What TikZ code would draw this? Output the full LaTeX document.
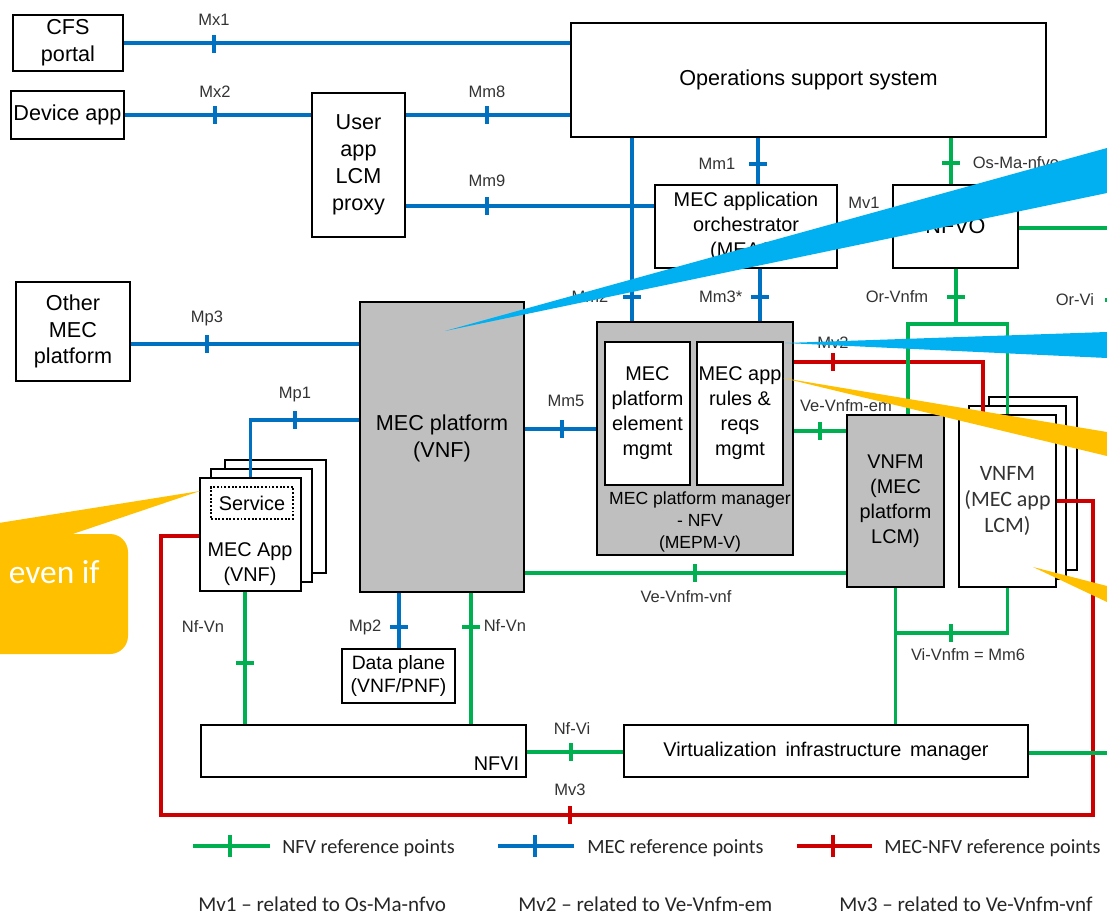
\documentclass[tikz,border=0pt]{standalone}
\usepackage{fontspec}
\setmainfont{Liberation Sans}
\newfontfamily\calibri{Carlito}
\usepackage{tikz}

\definecolor{mecblue}{RGB}{0,112,192}
\definecolor{nfvgreen}{RGB}{0,176,80}
\definecolor{mvred}{RGB}{204,0,0}
\definecolor{boxgray}{RGB}{191,191,191}
\definecolor{callblue}{RGB}{0,176,240}
\definecolor{callyellow}{RGB}{255,192,0}

\begin{document}
\begin{tikzpicture}[
            x = 0.02cm, % one unit = one pixel of the slide
            y = -0.02cm, % y grows downwards
            line join = miter
        ]

        \tikzstyle{box}=[
            draw = black,
            line width = 1.1pt,
            fill = white,
            inner sep = 0pt,
            align = center,
            font = \fontsize{12.3}{15.3}\selectfont
        ]
        \tikzstyle{sbox}=[box, font = \fontsize{11.3}{14.2}\selectfont]
        \tikzstyle{mec}=[mecblue, line width = 2pt]
        \tikzstyle{nfv}=[nfvgreen, line width = 2pt]
        \tikzstyle{mv}=[mvred, line width = 2pt]
        \tikzstyle{tv}=[fill, inner sep = 0pt, minimum width = 2pt, minimum height = 10.2pt]
        \tikzstyle{th}=[fill, inner sep = 0pt, minimum width = 10.2pt, minimum height = 2pt]
        \tikzstyle{lbl}=[text = black!80, inner sep = 0pt, font = \fontsize{9.4}{11}\selectfont]
        \tikzstyle{leg}=[text = black!85, inner sep = 0pt, anchor = base west, font = \calibri\fontsize{11.5}{13}\selectfont]

        \useasboundingbox (0,0) rectangle (1107,916);
        \clip (0,0) rectangle (1107,916);
        \fill[white] (0,0) rectangle (1107,916);

        % boxes
        \node[box, minimum width = 2.2cm, minimum height = 1.12cm] (cfs) at (68,43) {CFS\\portal};
        \node[box, minimum width = 2.26cm, minimum height = 0.96cm] (dev) at (67.5,115) {Device app};
        \node[box, minimum width = 1.86cm, minimum height = 2.88cm] (ualcm) at (358.5,165) {User\\app\\LCM\\proxy};
        \node[box, minimum width = 9.5cm, minimum height = 2.28cm] (oss) at (808.5,80) {Operations support system};
        \node[sbox, minimum width = 3.64cm, minimum height = 1.66cm] (meao) at (746,226.5) {MEC application\\orchestrator\\(MEAO)};
        \node[box, minimum width = 2.5cm, minimum height = 1.66cm] (nfvo) at (955.5,226.5) {NFVO};
        \node[box, minimum width = 2.28cm, minimum height = 1.98cm] (omp) at (73,331.5) {Other\\MEC\\platform};

        \node[box, fill = boxgray, minimum width = 3.28cm, minimum height = 5.8cm] (mep) at (442,447) {};
        \node[box, draw = none, fill = none] (mept) at (442,438) {MEC platform\\(VNF)};

        \node[sbox, minimum width = 2.02cm, minimum height = 2.26cm] (mapp3) at (275.5,516.5) {};
        \node[sbox, minimum width = 2.02cm, minimum height = 2.26cm] (mapp2) at (261.5,525.5) {};
        \node[sbox, minimum width = 2.02cm, minimum height = 2.26cm] (mapp) at (250.5,534.5) {};
        \node[sbox, densely dotted, line width = 1pt, minimum width = 1.64cm, minimum height = 0.64cm] (svc) at (252,503) {Service};
        \node[sbox, draw = none, fill = none] (mappt) at (250,564) {MEC App\\(VNF)};

        \node[sbox, font = \fontsize{11}{13.2}\selectfont, minimum width = 2.26cm, minimum height = 1.08cm] (dp) at (398.5,676) {Data plane\\(VNF/PNF)};
        \node[box, minimum width = 6.5cm, minimum height = 1.04cm] (nfvi) at (363.5,751) {};
        \node[sbox, draw = none, fill = none, anchor = base east] (nfvit) at (520,770) {NFVI};
        \node[sbox, minimum width = 8.08cm, minimum height = 1.04cm] (vim) at (826,751) {Virtualization\ \,infrastructure\ \,manager};

        \node[box, fill = boxgray, minimum width = 3.92cm, minimum height = 4.66cm] (mepm) at (695,438.5) {};
        \node[sbox, minimum width = 1.7cm, minimum height = 2.86cm] (peem) at (647.5,413.5) {MEC\\platform\\element\\mgmt};
        \node[sbox, minimum width = 1.72cm, minimum height = 2.86cm] (arm) at (740,413.5) {MEC app\\rules \&\\reqs\\mgmt};
        \node[box, draw = none, fill = none, font = \fontsize{10}{12.3}\selectfont] (mepmt) at (700,522) {MEC platform manager\\- NFV\\(MEPM-V)};

        \node[sbox, fill = boxgray, minimum width = 1.94cm, minimum height = 3.44cm] (vnfmp) at (895.5,501) {VNFM\\(MEC\\platform\\LCM)};
        \node[box, minimum width = 1.76cm, minimum height = 3.46cm] (vnfma3) at (1033,483.5) {};
        \node[box, minimum width = 1.94cm, minimum height = 3.46cm] (vnfma2) at (1017.5,492.5) {};
        \node[box, text = black!80, font = \calibri\fontsize{12.5}{15}\selectfont, minimum width = 1.94cm, minimum height = 3.44cm] (vnfma) at (1007.5,501) {VNFM\\(MEC app\\LCM)};

        % free ends
        \coordinate (nfvoout) at (1107,228);
        \coordinate (vimout) at (1107,753);
        \coordinate (orvnfm) at (956,324);
        \coordinate (mv3a) at (161,815);
        \coordinate (mv3b) at (1093,815);

        % MEC reference points
        \draw[mec] (cfs.east) -- (cfs.east -| oss.west)
            node[tv] at (214,44) {} node[lbl] at (214,20) {Mx1};
        \draw[mec] (dev.east) -- (dev.east -| ualcm.west)
            node[tv] at (215,115) {} node[lbl] at (215,92) {Mx2};
        \draw[mec] (dev.east -| ualcm.east) -- (dev.east -| oss.west)
            node[tv] at (487,115) {} node[lbl] at (487,92) {Mm8};
        \draw[mec] (ualcm.east |- 0,206) -- (meao.west |- 0,206)
            node[tv] at (487,206) {} node[lbl] at (487,181) {Mm9};
        \draw[mec] (oss.south -| 632,0) -- (mepm.north -| 632,0)
            node[th] at (632,297) {} node[lbl, anchor = east] at (610,297) {Mm2};
        \draw[mec] (oss.south -| 758,0) -- (meao.north -| 758,0)
            node[th] at (758,164) {} node[lbl, anchor = east] at (737,164) {Mm1};
        \draw[mec] (meao.south -| 760,0) -- (mepm.north -| 760,0)
            node[th] at (760,297) {} node[lbl, anchor = east] at (744,297) {Mm3*};
        \draw[mec] (omp.east |- 0,344) -- (mep.west |- 0,344)
            node[tv] at (207,344) {} node[lbl] at (207,318) {Mp3};
        \draw[mec] (mapp.north) |- (mep.west |- 0,420)
            node[tv] at (295,420) {} node[lbl] at (295,395) {Mp1};
        \draw[mec] (mep.east |- 0,429) -- (mepm.west |- 0,429)
            node[tv] at (562,429) {} node[lbl] at (566,401) {Mm5};
        \draw[mec] (mep.south -| 399,0) -- (dp.north -| 399,0)
            node[th] at (399,627) {} node[lbl, anchor = east] at (383,627) {Mp2};

        % MEC-NFV reference points
        \draw[mv] (mepm.east |- 0,362) -| (vnfma.north -| 983,0)
            node[tv] at (833,362) {} node[lbl] at (833,343) {Mv2};
        \draw[mv] (mapp.west |- 0,536) -| (mv3a) -- (mv3b) |- (vnfma.east)
            node[tv] at (570,815) {} node[lbl] at (570,790) {Mv3};
        \node[lbl] (mv1) at (864,203) {Mv1};

        % NFV reference points
        \draw[nfv] (oss.south -| 951,0) -- (nfvo.north -| 951,0)
            node[th] at (951,163) {} node[lbl, anchor = west] at (971,163) {Os-Ma-nfvo};
        \draw[nfv] (nfvo.east |- nfvoout) -- (nfvoout);
        \draw[nfv] (nfvo.south -| orvnfm) -- (orvnfm)
            node[th] at (956,297) {} node[lbl] at (897,297) {Or-Vnfm};
        \draw[nfv] (vnfmp.north -| 908,0) |- (orvnfm) -| (vnfma.north);
        \node[lbl] (orvi) at (1075,300) {Or-Vi};
        \node[th, nfvgreen] (orvitick) at (1114,300) {};
        \draw[nfv] (mepm.east |- 0,431) -- (vnfmp.west |- 0,431)
            node[tv] at (820,431) {} node[lbl] at (846,406) {Ve-Vnfm-em};
        \draw[nfv] (mep.east |- 0,573) -- (vnfmp.west |- 0,573)
            node[tv] at (695,573) {} node[lbl] at (686,597) {Ve-Vnfm-vnf};
        \draw[nfv] (mapp.south -| 245,0) -- (nfvi.north -| 245,0)
            node[th] at (245,663) {} node[lbl] at (203,627) {Nf-Vn};
        \draw[nfv] (mep.south -| 471,0) -- (nfvi.north -| 471,0)
            node[th] at (471,627) {} node[lbl, anchor = west] at (482,626) {Nf-Vn};
        \draw[nfv] (nfvi.east |- 0,752) -- (vim.west |- 0,752)
            node[tv] at (571,752) {} node[lbl] at (572,729) {Nf-Vi};
        \draw[nfv] (vnfmp.south) -- (vnfmp.south |- vim.north);
        \draw[nfv] (vnfmp.south |- 0,633) -| (vnfma.south)
            node[tv] at (951,633) {} node[lbl] at (968,655) {Vi-Vnfm = Mm6};
        \draw[nfv] (vim.east |- vimout) -- (vimout);

        % legend
        \coordinate (lga1) at (193,846);
        \coordinate (lga2) at (270,846);
        \coordinate (lgb1) at (498,846);
        \coordinate (lgb2) at (574,846);
        \coordinate (lgc1) at (797,846);
        \coordinate (lgc2) at (872,846);
        \draw[nfv] (lga1) -- (lga2) node[tv, minimum height = 12.5pt] at (230,846) {};
        \draw[mec] (lgb1) -- (lgb2) node[tv, minimum height = 12.5pt] at (535,846) {};
        \draw[mv] (lgc1) -- (lgc2) node[tv, minimum height = 12.5pt] at (833,846) {};
        \node[leg] (lgat) at (282,853) {NFV reference points};
        \node[leg] (lgbt) at (587,853) {MEC reference points};
        \node[leg] (lgct) at (884,853) {MEC-NFV reference points};
        \node[leg, font = \calibri\fontsize{12}{14}\selectfont] (mv1t) at (198,911) {Mv1 – related to Os-Ma-nfvo};
        \node[leg, font = \calibri\fontsize{12}{14}\selectfont] (mv2t) at (518,911) {Mv2 – related to Ve-Vnfm-em};
        \node[leg, font = \calibri\fontsize{12}{14}\selectfont] (mv3t) at (839,911) {Mv3 – related to Ve-Vnfm-vnf};

        % callouts
        \fill[callblue] (445,331) -- (1107,148) -- (1107,193) -- cycle;
        \fill[callblue] (785,343) -- (1107,332) -- (1107,358) -- cycle;
        \fill[callyellow] (783,378) -- (1107,432) -- (1107,456) -- cycle;
        \fill[callyellow] (1033,567) -- (1107,586) -- (1107,602) -- cycle;
        \fill[callyellow, rounded corners = 0.36cm] (-20,534) rectangle (128,654);
        \fill[callyellow] (200,491) -- (55,540) -- (-20,540) -- (-20,526) -- cycle;
        \node[anchor = base east, text = white, inner sep = 0pt, font = \calibri\fontsize{19}{22}\selectfont] (evenif) at (100,583) {even if};

\end{tikzpicture}
\end{document}
